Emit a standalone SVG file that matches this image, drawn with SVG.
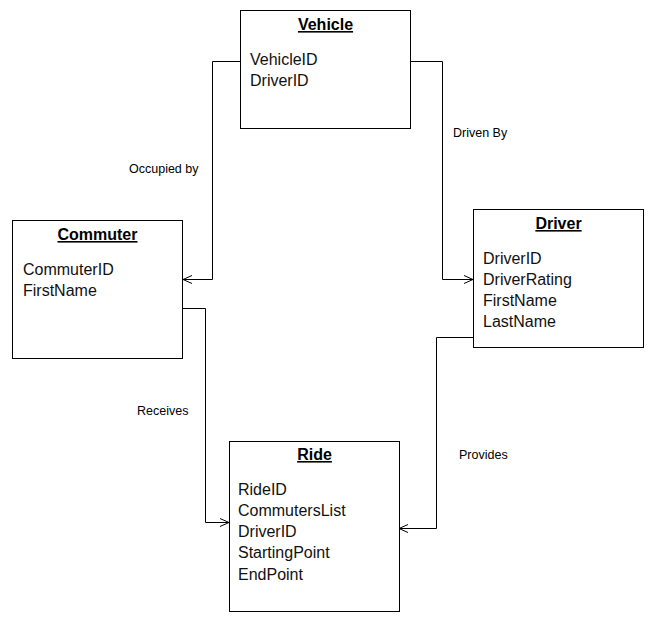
<svg xmlns="http://www.w3.org/2000/svg" width="652" height="622" viewBox="0 0 652 622">
<style>
.box{fill:#fff;stroke:#000;stroke-width:1}
.title{font-family:"Liberation Sans",Arial,sans-serif;font-size:16px;font-weight:bold;text-decoration:underline;text-anchor:middle;fill:#000}
.field{font-family:"Liberation Sans",Arial,sans-serif;font-size:16px;fill:#111}
.lbl{font-family:"Liberation Sans",Arial,sans-serif;font-size:12.5px;fill:#000}
.conn{fill:none;stroke:#000;stroke-width:1}
</style>
<defs>
<marker id="arr" viewBox="0 0 10 10" refX="10" refY="5" markerWidth="10" markerHeight="10" markerUnits="userSpaceOnUse" orient="auto">
<path d="M1,1 L10,5 L1,9" fill="none" stroke="#000" stroke-width="1"/>
</marker>
</defs>
<rect width="652" height="622" fill="#fff"/>
<g id="connectors">
<polyline class="conn" points="240.5,61.5 212.5,61.5 212.5,279.5 183,279.5" marker-end="url(#arr)"/>
<polyline class="conn" points="410.5,61.5 442.5,61.5 442.5,279.5 473,279.5" marker-end="url(#arr)" stroke="#333"/>
<polyline class="conn" points="183,308.5 205.5,308.5 205.5,522.5 229,522.5" marker-end="url(#arr)"/>
<polyline class="conn" points="473,337.5 436.5,337.5 436.5,528.5 399,528.5" marker-end="url(#arr)"/>
<text class="lbl" x="129" y="173">Occupied by</text>
<text class="lbl" x="453" y="137">Driven By</text>
<text class="lbl" x="137" y="415">Receives</text>
<text class="lbl" x="459" y="459">Provides</text>
</g>
<g id="vehicle">
<rect class="box" x="240.5" y="10.5" width="170" height="118"/>
<text class="title" x="325.5" y="30">Vehicle</text>
<text class="field" x="250" y="65">VehicleID</text>
<text class="field" x="250" y="86">DriverID</text>
</g>
<g id="commuter">
<rect class="box" x="12.5" y="220.5" width="170" height="138"/>
<text class="title" x="97.5" y="240">Commuter</text>
<text class="field" x="23" y="275">CommuterID</text>
<text class="field" x="23" y="296">FirstName</text>
</g>
<g id="driver">
<rect class="box" x="473.5" y="209.5" width="170" height="138"/>
<text class="title" x="558.5" y="229">Driver</text>
<text class="field" x="483" y="264">DriverID</text>
<text class="field" x="483" y="285">DriverRating</text>
<text class="field" x="483" y="306">FirstName</text>
<text class="field" x="483" y="327">LastName</text>
</g>
<g id="ride">
<rect class="box" x="229.5" y="441.5" width="170" height="170"/>
<text class="title" x="314.5" y="460">Ride</text>
<text class="field" x="238" y="495">RideID</text>
<text class="field" x="238" y="516">CommutersList</text>
<text class="field" x="238" y="537">DriverID</text>
<text class="field" x="238" y="558">StartingPoint</text>
<text class="field" x="238" y="580">EndPoint</text>
</g>
</svg>
